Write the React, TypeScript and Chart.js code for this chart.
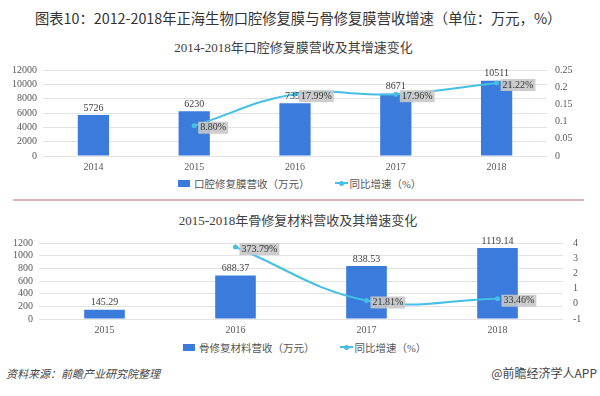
import React, { useEffect, useRef } from "react";
import { Chart, registerables } from "chart.js";

Chart.register(...registerables);

// ---------- data ----------
const years1 = ["2014", "2015", "2016", "2017", "2018"];
const revenue1 = [5726, 6230, 7351, 8671, 10511];
const growth1: (number | null)[] = [null, 0.088, 0.1799, 0.1796, 0.2122];

const years2 = ["2015", "2016", "2017", "2018"];
const revenue2 = [145.29, 688.37, 838.53, 1119.14];
const growth2: (number | null)[] = [null, 3.7379, 0.2181, 0.3346];

const mainTitle = "图表10：2012-2018年正海生物口腔修复膜与骨修复膜营收增速（单位：万元，%）";
const chartTitle1 = "2014-2018年口腔修复膜营收及其增速变化";
const chartTitle2 = "2015-2018年骨修复材料营收及其增速变化";
const barLegend1 = "口腔修复膜营收（万元）";
const barLegend2 = "骨修复材料营收（万元）";
const lineLegend = "同比增速（%）";
const sourceText = "资料来源：前瞻产业研究院整理";
const brandText = "@前瞻经济学人APP";

// ---------- style ----------
const BAR_COLOR = "#3b7bdb";
const LINE_COLOR = "#45bfe6";
const TICK_COLOR = "#595959";
const GRID_COLOR = "#e3e3e3";
const SERIF = '"Liberation Serif", "Noto Sans CJK SC", serif';
const SANS = '"Noto Sans CJK SC", "Noto Sans", sans-serif';

const labelPlugin = {
  id: "valueLabels",
  afterDatasetsDraw(chart: any) {
    const ctx = chart.ctx as CanvasRenderingContext2D;
    const barMeta = chart.getDatasetMeta(0);
    const lineMeta = chart.getDatasetMeta(1);
    const barData = chart.data.datasets[0].data as number[];
    const lineData = chart.data.datasets[1].data as (number | null)[];
    ctx.save();
    ctx.font = '10px "Liberation Serif"';
    ctx.textBaseline = "middle";
    barMeta.data.forEach((el: any, i: number) => {
      ctx.fillStyle = "#404040";
      ctx.textAlign = "center";
      ctx.fillText(String(barData[i]), el.x, el.y - 7);
    });
    lineMeta.data.forEach((el: any, i: number) => {
      const v = lineData[i];
      if (v === null || v === undefined) return;
      const t = (v * 100).toFixed(2) + "%";
      const w = ctx.measureText(t).width + 4;
      const h = 12;
      const x = el.x + 4;
      const y = el.y + 2;
      ctx.fillStyle = "rgba(200,200,200,0.9)";
      ctx.fillRect(x, y - h / 2, w, h);
      ctx.fillStyle = "#333333";
      ctx.textAlign = "left";
      ctx.fillText(t, x + 2, y);
    });
    ctx.restore();
  },
};

function makeConfig(
  labels: string[],
  bars: number[],
  line: (number | null)[],
  left: { min: number; max: number; step: number; width: number },
  right: { min: number; max: number; step: number; width: number; pad: number }
): any {
  const tickFont = { family: '"Liberation Serif"', size: 10 };
  return {
    type: "bar",
    data: {
      labels,
      datasets: [
        {
          type: "bar",
          data: bars,
          backgroundColor: BAR_COLOR,
          barPercentage: 0.31,
          categoryPercentage: 1,
          yAxisID: "y",
          order: 2,
        },
        {
          type: "line",
          data: line,
          borderColor: LINE_COLOR,
          backgroundColor: LINE_COLOR,
          borderWidth: 2,
          pointRadius: 2.5,
          pointBorderWidth: 0,
          tension: 0.4,
          spanGaps: false,
          yAxisID: "y1",
          order: 1,
        },
      ],
    },
    options: {
      responsive: false,
      animation: false,
      devicePixelRatio: 1,
      layout: { padding: { top: 10, bottom: 0, left: 0, right: 0 } },
      plugins: { legend: { display: false }, tooltip: { enabled: false }, title: { display: false } },
      scales: {
        x: {
          grid: { display: false, drawTicks: false },
          border: { display: false },
          ticks: { padding: 5, font: tickFont, color: TICK_COLOR },
          afterFit: (s: any) => {
            s.height = 20;
          },
        },
        y: {
          position: "left",
          min: left.min,
          max: left.max,
          grid: { color: GRID_COLOR, drawTicks: false },
          border: { display: false },
          ticks: {
            stepSize: left.step,
            autoSkip: false,
            padding: 6,
            font: tickFont,
            color: TICK_COLOR,
            callback: (v: any) => String(v),
          },
          afterFit: (s: any) => {
            s.width = left.width;
          },
        },
        y1: {
          position: "right",
          min: right.min,
          max: right.max,
          grid: { display: false, drawTicks: false },
          border: { display: false },
          ticks: {
            stepSize: right.step,
            autoSkip: false,
            padding: right.pad,
            font: tickFont,
            color: TICK_COLOR,
            callback: (v: any) => String(Math.round(Number(v) * 100) / 100),
          },
          afterFit: (s: any) => {
            s.width = right.width;
          },
        },
      },
    },
    plugins: [labelPlugin],
  };
}

function ChartBox({ top, height, config }: { top: number; height: number; config: any }) {
  const ref = useRef<HTMLCanvasElement>(null);
  useEffect(() => {
    const c = new Chart(ref.current as HTMLCanvasElement, config);
    return () => c.destroy();
  }, []);
  return (
    <div style={{ position: "absolute", left: 0, top, width: 600, height }}>
      <canvas ref={ref} width={600} height={height} style={{ width: 600, height, display: "block" }} />
    </div>
  );
}

function Legend({ left, top, barText }: { left: number; top: number; barText: string }) {
  return (
    <div
      style={{
        position: "absolute",
        left,
        top,
        height: 14,
        display: "flex",
        alignItems: "center",
        fontFamily: SERIF,
        fontSize: 10.5,
        color: "#555",
        whiteSpace: "nowrap",
      }}
    >
      <span style={{ display: "inline-block", width: 12, height: 7, background: BAR_COLOR, marginRight: 4 }} />
      <span>{barText}</span>
      <span style={{ display: "inline-block", width: 25 }} />
      <span style={{ position: "relative", display: "inline-block", width: 13, height: 7, marginRight: 2 }}>
        <span style={{ position: "absolute", left: 0, top: 2.5, width: 13, height: 2, background: LINE_COLOR }} />
        <span
          style={{
            position: "absolute",
            left: 4,
            top: 1,
            width: 5,
            height: 5,
            borderRadius: 3,
            background: LINE_COLOR,
          }}
        />
      </span>
      <span>{lineLegend}</span>
    </div>
  );
}

export default function App() {
  const config1 = makeConfig(
    years1,
    revenue1,
    growth1,
    { min: 0, max: 12000, step: 2000, width: 43 },
    { min: 0, max: 0.25, step: 0.05, width: 53, pad: 8 }
  );
  const config2 = makeConfig(
    years2,
    revenue2,
    growth2,
    { min: 0, max: 1200, step: 200, width: 39 },
    { min: -1, max: 4, step: 1, width: 37, pad: 10 }
  );
  return (
    <div
      style={{
        position: "relative",
        width: 600,
        height: 396,
        background: "#ffffff",
        overflow: "hidden",
        fontFamily: SANS,
      }}
    >
      <style>{"body{margin:0;background:#fff}"}</style>
      <div
        style={{
          position: "absolute",
          left: 35,
          top: 8,
          fontSize: 14.3,
          lineHeight: "20px",
          color: "#333",
          whiteSpace: "nowrap",
          fontFamily: SANS,
        }}
      >
        {mainTitle}
      </div>

      <div
        style={{
          position: "absolute",
          left: 0,
          width: 587,
          top: 40,
          textAlign: "center",
          fontSize: 13,
          lineHeight: "16px",
          color: "#404040",
          fontFamily: SERIF,
          whiteSpace: "nowrap",
        }}
      >
        {chartTitle1}
      </div>
      <ChartBox top={56} height={120} config={config1} />
      <Legend left={178} top={176} barText={barLegend1} />

      <div
        style={{
          position: "absolute",
          left: 13,
          top: 199,
          width: 571,
          height: 2,
          background: "#d9b5bb",
        }}
      />

      <div
        style={{
          position: "absolute",
          left: 0,
          width: 596,
          top: 213,
          textAlign: "center",
          fontSize: 13,
          lineHeight: "16px",
          color: "#404040",
          fontFamily: SERIF,
          whiteSpace: "nowrap",
        }}
      >
        {chartTitle2}
      </div>
      <ChartBox top={227} height={112} config={config2} />
      <Legend left={183} top={340} barText={barLegend2} />

      <div
        style={{
          position: "absolute",
          left: 6,
          top: 366,
          fontSize: 11,
          lineHeight: "14px",
          fontStyle: "italic",
          color: "#444",
          whiteSpace: "nowrap",
        }}
      >
        {sourceText}
      </div>
      <div
        style={{
          position: "absolute",
          right: 3,
          top: 366,
          fontSize: 12,
          lineHeight: "14px",
          color: "#444",
          whiteSpace: "nowrap",
        }}
      >
        {brandText}
      </div>
    </div>
  );
}
